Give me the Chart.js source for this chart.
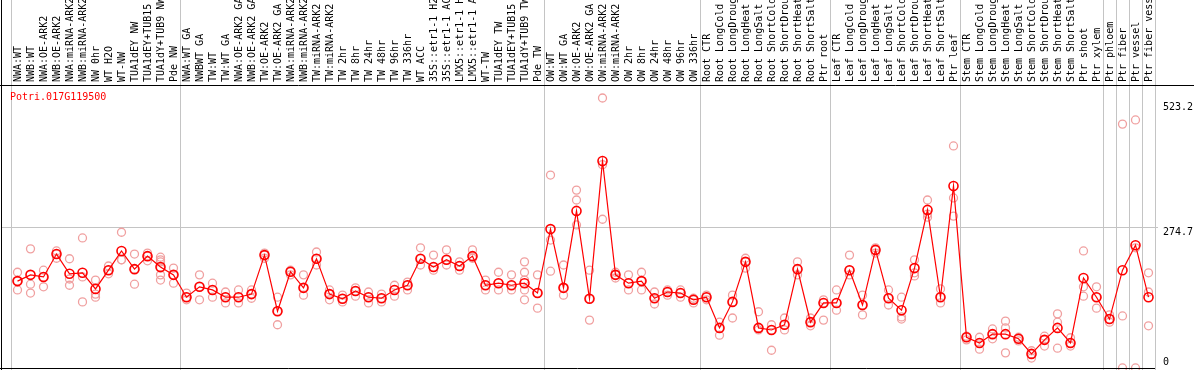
<!DOCTYPE html>
<html>
<head>
<meta charset="utf-8">
<title>Potri.017G119500</title>
<script src="https://cdn.jsdelivr.net/npm/chart.js@4.4.1/dist/chart.umd.min.js"></script>
<style>
  html, body { margin: 0; padding: 0; background: #fff; }
  canvas { display: block; }
</style>
</head>
<body>
<canvas id="exprChart" width="1194" height="370"></canvas>
<script>
// gene + samples
const geneId = 'Potri.017G119500';

const samples = [
  'NWA:WT', 'NWB:WT', 'NWA:OE-ARK2', 'NWB:OE-ARK2', 'NWA:miRNA-ARK2', 'NWB:miRNA-ARK2', 'NW 0hr', 'WT H2O', 'WT-NW',
  'TUA1dEY NW', 'TUA1dEY+TUB15 NW', 'TUA1dY+TUB9 NW', 'Pde NW',
  'NWA:WT GA', 'NWBWT GA', 'TW:WT', 'TW:WT GA', 'NWA:OE-ARK2 GA', 'NWB:OE-ARK2 GA', 'TW:OE-ARK2', 'TW:OE-ARK2 GA',
  'NWA:miRNA-ARK2', 'NWB:miRNA-ARK2', 'TW:miRNA-ARK2', 'TW:miRNA-ARK2', 'TW 2hr', 'TW 8hr', 'TW 24hr', 'TW 48hr',
  'TW 96hr', 'TW 336hr', 'WT ACC', '35S::etr1-1 H2O', '35S::etr1-1 ACC', 'LMX5::etr1-1 H2O', 'LMX5::etr1-1 ACC',
  'WT-TW', 'TUA1dEY TW', 'TUA1dEY+TUB15 TW', 'TUA1dY+TUB9 TW', 'Pde TW',
  'OW:WT', 'OW:WT GA', 'OW:OE-ARK2', 'OW:OE-ARK2 GA', 'OW:miRNA-ARK2', 'OW:miRNA-ARK2', 'OW 2hr', 'OW 8hr',
  'OW 24hr', 'OW 48hr', 'OW 96hr', 'OW 336hr',
  'Root CTR', 'Root LongCold', 'Root LongDrought', 'Root LongHeat', 'Root LongSalt', 'Root ShortCold',
  'Root ShortDrought', 'Root ShortHeat', 'Root ShortSalt', 'Ptr root',
  'Leaf CTR', 'Leaf LongCold', 'Leaf LongDrought', 'Leaf LongHeat', 'Leaf LongSalt', 'Leaf ShortCold',
  'Leaf ShortDrought', 'Leaf ShortHeat', 'Leaf ShortSalt', 'Ptr leaf',
  'Stem CTR', 'Stem LongCold', 'Stem LongDrought', 'Stem LongHeat', 'Stem LongSalt', 'Stem ShortCold',
  'Stem ShortDrought', 'Stem ShortHeat', 'Stem ShortSalt', 'Ptr shoot',
  'Ptr xylem', 'Ptr phloem', 'Ptr fiber', 'Ptr vessel', 'Ptr fiber vessel'
];

// mean expression per sample
const meanExpr = [
  171, 183, 179, 223, 185, 187, 156, 192, 229, 194, 219, 198, 183,
  140, 160, 154, 140, 140, 146, 221, 113, 189, 158, 214, 146, 137, 152, 140, 138, 154, 163,
  214, 198, 212, 200, 219, 163, 167, 163, 167, 148,
  271, 158, 306, 137, 402, 183, 167, 171, 138, 150, 148, 135,
  140, 81, 131, 208, 81, 77, 87, 194, 92, 129,
  129, 192, 125, 231, 138, 115, 196, 308, 140, 354,
  63, 52, 69, 69, 60, 31, 58, 81, 52, 177,
  140, 98, 192, 240, 140
];

// individual replicates per sample
const replicates = [
  [188, 154, 171], [233, 165, 148], [192, 160, 179], [229, 215, 223], [214, 175, 163], [254, 179, 131],
  [173, 146, 140], [200, 185, 192], [265, 212, 212], [223, 165, 194], [225, 210, 219],
  [217, 212, 208, 196, 183, 173], [196, 167, 183],
  [148, 135, 140], [183, 135, 160], [167, 140, 154], [150, 129, 140], [154, 129, 140], [154, 138, 146],
  [225, 221, 215], [140, 87, 113], [192, 183, 189], [183, 144, 158], [227, 202, 214], [154, 135, 146],
  [144, 131, 137], [158, 142, 152], [150, 129, 140], [146, 131, 138], [163, 142, 154], [169, 154, 163],
  [235, 202, 214], [221, 192, 198], [231, 202, 212], [208, 192, 200], [231, 215, 219], [173, 154, 163],
  [188, 154, 167], [183, 154, 163], [208, 188, 173, 154, 135], [183, 119, 148],
  [375, 250, 190], [202, 144, 158], [346, 327, 279], [192, 96, 137], [523.2, 395, 290], [188, 177, 183],
  [183, 154, 167], [188, 154, 171], [150, 127, 138], [154, 144, 150], [154, 140, 148], [138, 129, 135],
  [144, 135, 140], [92, 67, 81], [144, 100, 131], [215, 196, 208], [112, 77, 81], [87, 38, 77],
  [100, 77, 87], [208, 183, 194], [100, 85, 92], [135, 96, 129],
  [154, 115, 129], [221, 183, 192], [144, 106, 125], [235, 225, 231], [154, 125, 138], [140, 102, 98],
  [212, 187, 181], [327, 300, 294], [156, 129, 140], [431, 331, 296],
  [65, 58, 63], [63, 40, 52], [79, 60, 69], [94, 81, 33], [63, 56, 60], [37, 23, 31], [65, 46, 58],
  [108, 92, 42], [62, 46, 52], [229, 160, 142],
  [160, 119, 140], [106, 92, 98], [473, 104, 4], [481, 4, 235], [187, 150, 85]
];

const yTicks = [0, 274.7, 523.2];
const yMax = 523.2;
// last sample index of each block (vertical separators)
const groupEnds = [0, 13, 41, 53, 63, 73, 84, 85, 86, 87, 88];

const monoFont = '10px "DejaVu Sans Mono", "Liberation Mono", monospace';

const meanPoints = meanExpr.map((v, i) => ({ x: i + 1, y: v }));
const repPoints = [];
replicates.forEach((reps, i) => reps.forEach(v => repPoints.push({ x: i + 1, y: v })));

function hline(ctx, x1, x2, y) {
  ctx.beginPath(); ctx.moveTo(x1, y); ctx.lineTo(x2, y); ctx.stroke();
}
function vline(ctx, x, y1, y2) {
  ctx.beginPath(); ctx.moveTo(x, y1); ctx.lineTo(x, y2); ctx.stroke();
}

// frame, grid and text drawn around the plot
const framePlugin = {
  id: 'framePlugin',
  beforeDraw(chart) {
    const ctx = chart.ctx;
    const xs = chart.scales.x;
    const ys = chart.scales.y;
    ctx.save();
    ctx.fillStyle = '#fff';
    ctx.fillRect(0, 0, chart.width, chart.height);

    ctx.strokeStyle = '#c4c4c4';
    ctx.lineWidth = 1;
    groupEnds.forEach(g => {
      const px = Math.round(xs.getPixelForValue(g + 0.5)) + 0.5;
      vline(ctx, px, 0, chart.height);
    });
    const gy = Math.round(ys.getPixelForValue(yTicks[1])) + 0.5;
    hline(ctx, 2, 1158, gy);
    ctx.restore();
  },
  afterDraw(chart) {
    const ctx = chart.ctx;
    const xs = chart.scales.x;
    const ys = chart.scales.y;
    ctx.save();

    // black frame lines
    ctx.strokeStyle = '#000';
    ctx.lineWidth = 1;
    vline(ctx, 1.5, 0, chart.height);
    hline(ctx, 0, chart.width, 85.5);
    hline(ctx, 0, 1155, 368.5);

    // rotated sample names
    ctx.fillStyle = '#000';
    ctx.font = monoFont;
    ctx.textAlign = 'left';
    ctx.textBaseline = 'middle';
    samples.forEach((s, i) => {
      const px = xs.getPixelForValue(i + 1);
      ctx.save();
      ctx.translate(px + 0.5, 82);
      ctx.rotate(-Math.PI / 2);
      ctx.fillText(s, 0, 0);
      ctx.restore();
    });

    // right-hand value labels
    yTicks.forEach(t => {
      let py = ys.getPixelForValue(t) + 5;
      if (py > chart.height - 8) py = chart.height - 8;
      if (t === yMax) py += 4;
      ctx.fillText(String(t), 1163, py);
    });

    // gene id
    ctx.fillStyle = '#ff0000';
    ctx.font = monoFont;
    ctx.textBaseline = 'middle';
    ctx.fillText(geneId, 10, 97);
    ctx.restore();
  }
};

new Chart(document.getElementById('exprChart').getContext('2d'), {
  type: 'line',
  data: {
    datasets: [
      {
        label: 'mean',
        data: meanPoints,
        borderColor: '#ff0000',
        borderWidth: 1.2,
        pointRadius: 4.5,
        pointBorderWidth: 1.6,
        pointBorderColor: '#ff0000',
        pointBackgroundColor: 'rgba(255,255,255,0)',
        showLine: true,
        tension: 0,
        clip: false,
        order: 1
      },
      {
        label: 'replicates',
        data: repPoints,
        showLine: false,
        pointRadius: 4,
        pointBorderWidth: 1.3,
        pointBorderColor: '#f0a0a0',
        pointBackgroundColor: 'rgba(255,255,255,0)',
        clip: false,
        order: 2
      }
    ]
  },
  options: {
    responsive: false,
    animation: false,
    devicePixelRatio: 1,
    layout: { autoPadding: false, padding: { left: 11, right: 39, top: 98, bottom: 0 } },
    plugins: { legend: { display: false }, tooltip: { enabled: false } },
    scales: {
      x: { type: 'linear', min: 0.5, max: samples.length + 0.5, display: false },
      y: { type: 'linear', min: 0, max: yMax, display: false }
    }
  },
  plugins: [framePlugin]
});
</script>
</body>
</html>
